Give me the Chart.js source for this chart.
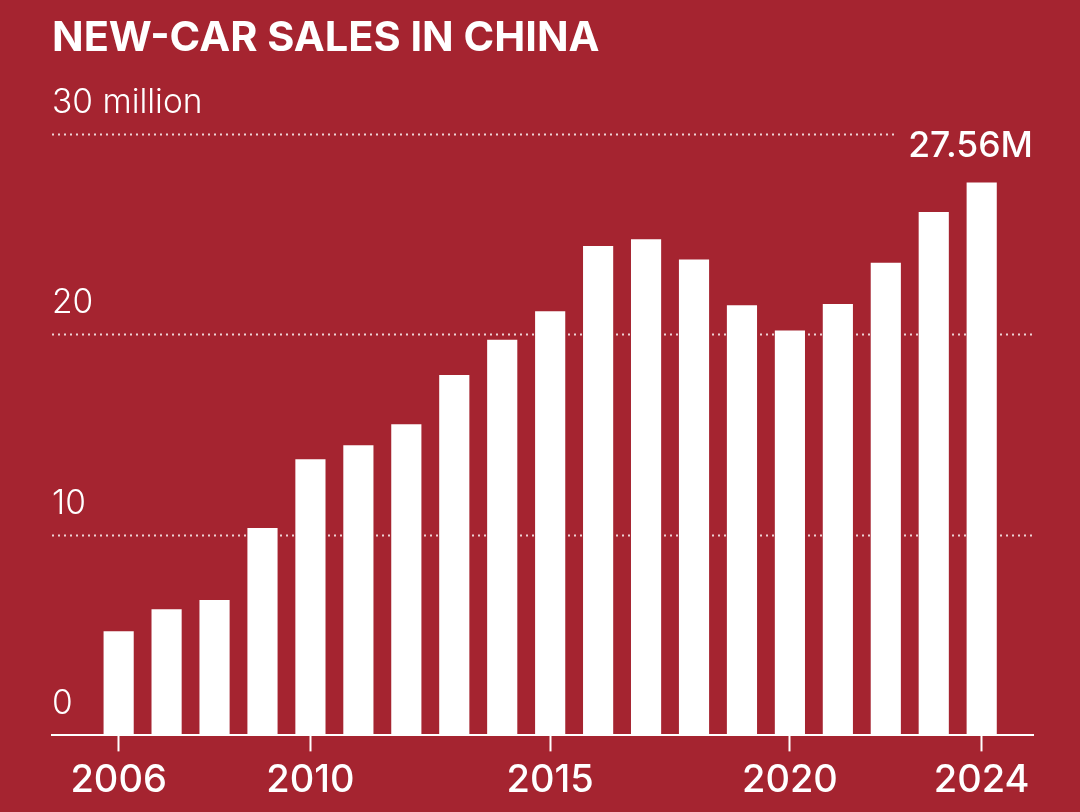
<!DOCTYPE html>
<html>
<head>
<meta charset="utf-8">
<script src="https://cdn.jsdelivr.net/npm/chart.js@4.4.1/dist/chart.umd.min.js"></script>
<style>
  html, body { margin: 0; padding: 0; background: #a52430; }
  #wrap { position: relative; width: 1080px; height: 812px; }
</style>
</head>
<body>
<div id="wrap"><canvas id="c"></canvas></div>
<script>
// ---- data ----
const years = [2006, 2007, 2008, 2009, 2010, 2011, 2012, 2013, 2014, 2015, 2016, 2017, 2018, 2019, 2020, 2021, 2022, 2023, 2024];
const salesMillions = [5.18, 6.28, 6.73, 10.32, 13.75, 14.45, 15.50, 17.95, 19.71, 21.14, 24.39, 24.72, 23.72, 21.44, 20.17, 21.49, 23.55, 26.09, 27.56];
const xTickYears = [2006, 2010, 2015, 2020, 2024];
const yTickValues = [0, 10, 20, 30];
const yTopLabel = '30 million';
const titleText = 'NEW-CAR SALES IN CHINA';
// --------------

const FONT = 'Inter, "Noto Sans", sans-serif';
const WHITE = '#ffffff';
const VALUE_FONT = '500 35.5px ' + FONT;

const gridPlugin = {
  id: 'dottedGrid',
  beforeDatasetsDraw(chart) {
    const { ctx, chartArea, scales } = chart;
    const y = scales.y;
    ctx.save();
    ctx.strokeStyle = 'rgba(255,255,255,0.8)';
    ctx.lineWidth = 2;
    ctx.setLineDash([2, 4]);
    ctx.font = VALUE_FONT;
    const lastLabel = salesMillions[salesMillions.length - 1].toFixed(2) + 'M';
    const labelW = ctx.measureText(lastLabel).width;
    yTickValues.forEach(v => {
      if (v === 0) return;
      const py = Math.round(y.getPixelForValue(v)) + 0.5;
      let xEnd = chartArea.right;
      if (v === y.max) xEnd = chartArea.right - labelW - 14;
      ctx.beginPath();
      ctx.moveTo(chartArea.left, py);
      ctx.lineTo(xEnd, py);
      ctx.stroke();
    });
    ctx.restore();
  },
  afterDatasetsDraw(chart) {
    const { ctx, chartArea } = chart;
    const meta = chart.getDatasetMeta(0);
    const last = meta.data[meta.data.length - 1];
    const txt = salesMillions[salesMillions.length - 1].toFixed(2) + 'M';
    ctx.save();
    ctx.fillStyle = WHITE;
    ctx.font = VALUE_FONT;
    ctx.textAlign = 'right';
    ctx.textBaseline = 'alphabetic';
    ctx.fillText(txt, chartArea.right, last.y - 26);
    ctx.restore();
  }
};

const bgPlugin = {
  id: 'bg',
  beforeDraw(chart) {
    const { ctx, width, height } = chart;
    ctx.save();
    ctx.fillStyle = '#a52430';
    ctx.fillRect(0, 0, width, height);
    ctx.restore();
  }
};

new Chart(document.getElementById('c'), {
  type: 'bar',
  data: {
    datasets: [{
      data: years.map((yr, i) => ({ x: yr, y: salesMillions[i] })),
      backgroundColor: WHITE,
      borderWidth: 0,
      barThickness: 29.5
    }]
  },
  options: {
    responsive: true,
    maintainAspectRatio: false,
    animation: false,
    layout: { padding: { left: 52, right: 47, top: 0, bottom: 3 } },
    plugins: {
      legend: { display: false },
      tooltip: { enabled: false },
      title: {
        display: true,
        text: titleText,
        align: 'start',
        color: WHITE,
        font: { family: FONT, size: 41.5, weight: 700 },
        padding: { top: 14, bottom: 70 }
      }
    },
    scales: {
      x: {
        type: 'linear',
        offset: false,
        min: 2004.61,
        max: 2025.07,
        afterBuildTicks(scale) { scale.ticks = xTickYears.map(v => ({ value: v })); },
        ticks: {
          color: WHITE,
          font: { family: FONT, size: 38, weight: 500 },
          padding: 6,
          maxRotation: 0,
          autoSkip: false,
          callback: v => String(v)
        },
        grid: {
          display: true,
          offset: false,
          drawOnChartArea: false,
          drawTicks: true,
          tickLength: 16,
          tickColor: WHITE,
          tickWidth: 2
        },
        border: { display: true, color: WHITE, width: 2 }
      },
      y: {
        min: 0,
        max: 30,
        afterBuildTicks(scale) { scale.ticks = yTickValues.map(v => ({ value: v })); },
        ticks: {
          mirror: true,
          padding: 0,
          labelOffset: -31,
          color: WHITE,
          font: { family: FONT, size: 33.5, weight: 300 },
          callback: v => (v === 30 ? yTopLabel : String(v))
        },
        grid: { display: false, drawTicks: false },
        border: { display: false }
      }
    }
  },
  plugins: [bgPlugin, gridPlugin]
});
</script>
</body>
</html>
